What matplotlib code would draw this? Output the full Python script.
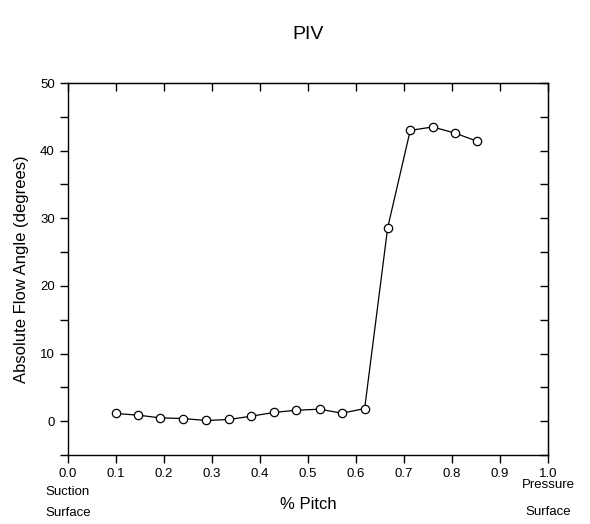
import numpy as np
import matplotlib
matplotlib.use('Agg')
import matplotlib.pyplot as plt
from matplotlib.ticker import MultipleLocator

# Data
pitch = [0.099, 0.146, 0.192, 0.240, 0.288, 0.335, 0.382, 0.429, 0.476,
         0.524, 0.571, 0.618, 0.666, 0.713, 0.760, 0.806, 0.852]
angle = [1.14, 0.89, 0.49, 0.39, 0.10, 0.25, 0.74, 1.29, 1.62,
         1.77, 1.18, 1.87, 28.6, 43.0, 43.5, 42.6, 41.4]
x_ticks = np.round(np.arange(0, 1.01, 0.1), 1)
y_ticks = [0, 10, 20, 30, 40, 50]

plt.rcParams['font.family'] = ['Liberation Sans', 'DejaVu Sans']

fig = plt.figure(figsize=(5.9, 5.24), dpi=100)
ax = fig.add_axes([0.1153, 0.1317, 0.8135, 0.7099])

ax.plot(pitch, angle, color='black', lw=0.9, marker='o', markersize=6,
        markerfacecolor='white', markeredgecolor='black', markeredgewidth=0.9)

ax.set_xlim(0, 1.0)
ax.set_ylim(-5, 50)
ax.set_xticks(x_ticks)
ax.set_xticklabels([f'{t:.1f}' for t in x_ticks])
ax.set_yticks(y_ticks)
ax.yaxis.set_minor_locator(MultipleLocator(5))
ax.tick_params(axis='both', which='both', labelsize=9.5, width=1, length=6,
               direction='out')

# inward ticks on top and right
top = ax.secondary_xaxis('top')
top.set_xticks(x_ticks)
top.tick_params(direction='in', length=6, width=1, labeltop=False)
right = ax.secondary_yaxis('right')
right.set_yticks(y_ticks)
right.yaxis.set_minor_locator(MultipleLocator(5))
right.tick_params(which='both', direction='in', length=6, width=1, labelright=False)

for sp in ax.spines.values():
    sp.set_linewidth(1)

ax.set_ylabel('Absolute Flow Angle (degrees)', fontsize=12, labelpad=8)
ax.set_xlabel('% Pitch', fontsize=12, labelpad=12)
ax.set_title('PIV', fontsize=14, pad=32)

fig.text(68 / 590, 1 - 492 / 524, 'Suction', ha='center', va='center', fontsize=9.5)
fig.text(68 / 590, 1 - 513 / 524, 'Surface', ha='center', va='center', fontsize=9.5)
fig.text(548 / 590, 1 - 485 / 524, 'Pressure', ha='center', va='center', fontsize=9.5)
fig.text(548 / 590, 1 - 512 / 524, 'Surface', ha='center', va='center', fontsize=9.5)

fig.savefig('out.png', dpi=100)
